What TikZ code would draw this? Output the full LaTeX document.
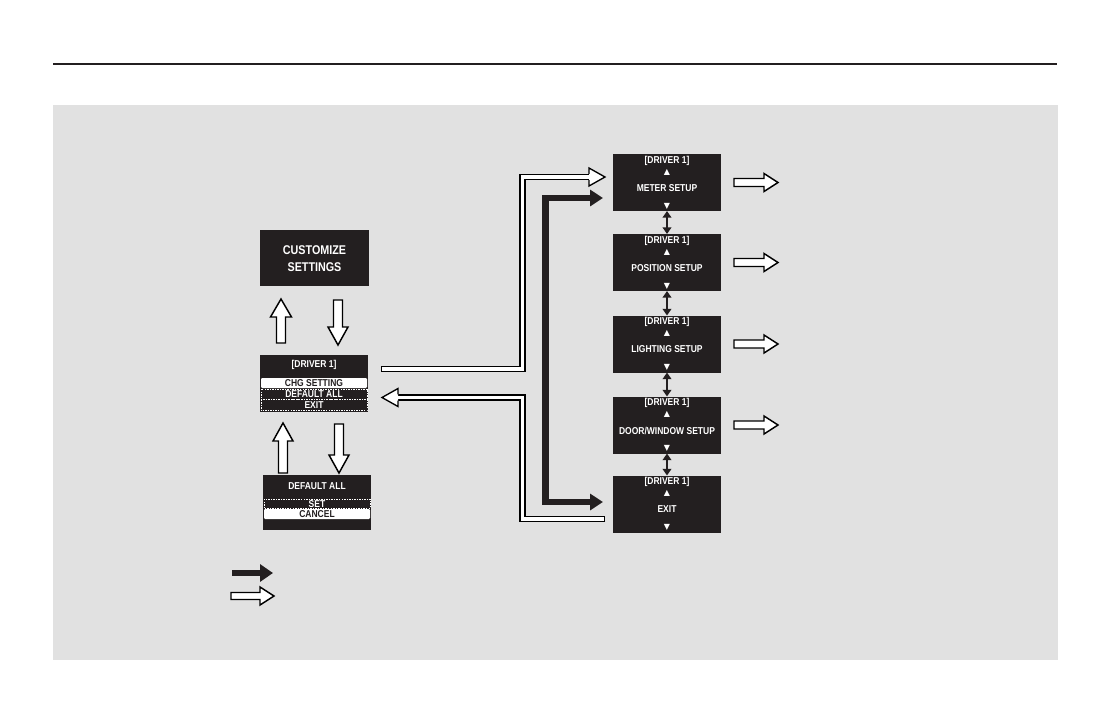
\documentclass[tikz,border=0pt]{standalone}
\usepackage{fontspec}
\setmainfont{Liberation Sans}
\newfontfamily\scr[FakeStretch=0.85]{Liberation Sans}
\newfontfamily\dvs{DejaVu Sans}
\usetikzlibrary{calc,arrows.meta}
\definecolor{scr}{HTML}{231F20}
\definecolor{panel}{HTML}{E1E1E1}
\tikzset{
  screen/.style={fill=scr, inner sep=0pt, outer sep=0pt, minimum width=81pt},
  scrtext/.style={text=white, font=\scr\bfseries\fontsize{7.5}{8}\selectfont, inner sep=0pt},
  bartext/.style={text=scr, font=\scr\bfseries\fontsize{7.5}{8}\selectfont, inner sep=0pt},
  bigtext/.style={text=white, font=\scr\bfseries\fontsize{9.5}{11}\selectfont, inner sep=0pt},
  tri/.style={text=white, font=\dvs\fontsize{6}{6}\selectfont, inner sep=0pt},
  hollow/.style={draw=black, fill=white, line width=1.1pt, line join=miter},
  dashbar/.style={draw=white, line width=0.5pt, dash pattern=on 1.1pt off 0.8pt},
  dblarrow/.style={line width=2pt, draw=scr, {Triangle[length=5pt,width=6.5pt]}-{Triangle[length=5pt,width=6.5pt]}},
  thickconn/.style={line width=5pt, draw=scr, line join=miter, {Triangle[length=9.75pt,width=12pt]}-{Triangle[length=9.75pt,width=12pt]}},
}
% hollow straight arrow: tail, angle, length, shaft half, head half, head length
\newcommand\harrow[6]{%
  \begin{scope}[shift={#1}, rotate=#2]
    \draw[hollow] (0,-#4) -- ({#3-#6},-#4) -- ({#3-#6},-#5) -- (#3,0) -- ({#3-#6},#5) -- ({#3-#6},#4) -- (0,#4) -- cycle;
  \end{scope}}
% hollow arrow head: tip, angle
\newcommand\hhead[2]{%
  \begin{scope}[shift={#1}, rotate=#2]
    \fill[white] (-16,-9) -- (0,0) -- (-16,9) -- cycle;
    \draw[line width=1pt, line join=miter] (-16,-3.2) -- (-16,-9) -- (0,0) -- (-16,9) -- (-16,3.2);
  \end{scope}}
\newcommand\menubox[3]{%
  \node[screen, minimum height=42.75pt] (#1) at (667,#2) {};
  \node[scrtext] (#1a) at ($(#1.north)+(0,6.5)$) {[DRIVER 1]};
  \node[tri] (#1b) at ($(#1.north)+(0,18)$) {▲};
  \node[scrtext] (#1c) at ($(#1.north)+(0,34)$) {#3};
  \node[tri] (#1d) at ($(#1.north)+(0,52)$) {▼};
}
\begin{document}
\begin{tikzpicture}[x=0.75pt, y=-0.75pt]
\useasboundingbox (0,0) rectangle (1120,722);
\fill[white] (0,0) rectangle (1120,722);
\draw[line width=0.9pt, draw=scr] (53,64) -- (1057,64);
\fill[panel] (53,105) rectangle (1058,660);

% left column
\node[screen, minimum width=81.75pt, minimum height=42pt] (cust) at (314.5,258) {};
\node[bigtext] (cust1) at (314.5,250) {CUSTOMIZE};
\node[bigtext] (cust2) at (314.5,267) {SETTINGS};

\node[screen, minimum height=42.75pt] (drv) at (314,383.5) {};
\node[scrtext] (drvh) at (314,365) {[DRIVER 1]};
\fill[white, rounded corners=0.8pt] (261,378) rectangle (367,388);
\node[bartext] (chg) at (314,383) {CHG SETTING};
\draw[dashbar] (261,389) rectangle (367,399.5);
\draw[dashbar] (261,399.5) rectangle (367,410.5);
\node[scrtext] (dfa) at (314,394) {DEFAULT ALL};
\node[scrtext] (ext) at (314,405) {EXIT};

\node[screen, minimum height=41.25pt] (dflt) at (317,502.5) {};
\node[scrtext] (dflth) at (317,486) {DEFAULT ALL};
\draw[dashbar] (264,499) rectangle (370,508.5);
\node[scrtext] (set) at (317,503.8) {SET};
\fill[white, rounded corners=0.8pt] (264,509) rectangle (370,519);
\node[bartext] (cancel) at (317,514) {CANCEL};

% left hollow arrows
\harrow{($(drv.north)+(-33,-12)$)}{90}{44}{4.5}{10.5}{18}
\harrow{($(cust.south)+(23.5,14)$)}{-90}{45}{4.5}{10}{18}
\harrow{($(dflt.north)+(-34,-2)$)}{90}{50}{4.5}{10}{18}
\harrow{($(drv.south)+(25,12)$)}{-90}{49}{4.5}{10}{18}

% right column
\menubox{m1}{182.5}{METER SETUP}
\menubox{m2}{262.5}{POSITION SETUP}
\menubox{m3}{344}{LIGHTING SETUP}
\menubox{m4}{425}{DOOR/WINDOW SETUP}
\menubox{m5}{504}{EXIT}

\draw[dblarrow] (m1.south) -- (m2.north);
\draw[dblarrow] (m2.south) -- (m3.north);
\draw[dblarrow] (m3.south) -- (m4.north);
\draw[dblarrow] (m4.south) -- (m5.north);

\foreach \m in {m1,m2,m3,m4}{
  \harrow{($(\m.east)+(13,0)$)}{0}{44}{4}{9}{14}
}

% forward hollow connector
\coordinate (vx) at (522.5,0);
\coordinate (ft) at ($(drv.east)+(13,-14.5)$);
\coordinate (fh) at ($(m1.west)+(-8,-5.5)$);
\draw[line width=4.8pt, line join=miter] (ft) -- (ft -| vx) -- (fh -| vx) -- ($(fh)+(-15,0)$);
\draw[line width=2.85pt, white, line join=miter] ($(ft)+(1.3,0)$) -- (ft -| vx) -- (fh -| vx) -- ($(fh)+(-15,0)$);
\hhead{(fh)}{0}

% return hollow connector
\coordinate (rt) at ($(m5.west)+(-8,15)$);
\coordinate (rh) at ($(drv.east)+(14,14)$);
\draw[line width=4.8pt, line join=miter] (rt) -- (rt -| vx) -- (rh -| vx) -- ($(rh)+(15,0)$);
\draw[line width=2.85pt, white, line join=miter] ($(rt)+(-1.3,0)$) -- (rt -| vx) -- (rh -| vx) -- ($(rh)+(15,0)$);
\hhead{(rh)}{180}

% thick black connector
\coordinate (bx) at (545.7,0);
\coordinate (bt) at ($(m1.west)+(-10,15.5)$);
\coordinate (bb) at ($(m5.west)+(-10,-2)$);
\draw[thickconn] (bt) -- (bt -| bx) -- (bb -| bx) -- (bb);

% legend
\coordinate (l1a) at (232,573);
\coordinate (l1b) at (273,573);
\draw[line width=4.5pt, draw=scr, -{Triangle[length=9.75pt,width=12.75pt]}] (l1a) -- (l1b);
\harrow{(231,596)}{0}{43}{3.5}{9}{14}
\end{tikzpicture}
\end{document}
